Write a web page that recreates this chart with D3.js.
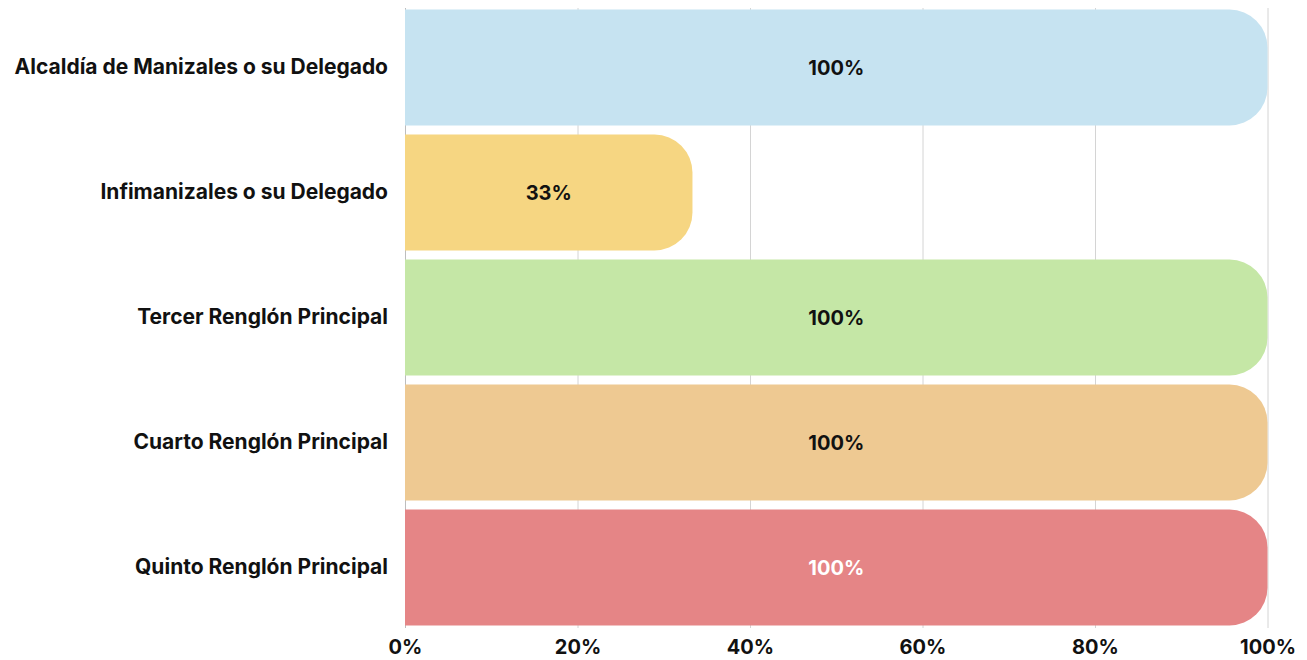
<!DOCTYPE html>
<html>
<head>
<meta charset="utf-8">
<script src="https://cdn.jsdelivr.net/npm/d3@7"></script>
<style>
  html, body { margin: 0; padding: 0; background: #fff; }
  svg { display: block; }
  text { font-family: "Inter", "Lato", sans-serif; font-weight: 700; }
</style>
</head>
<body>
<svg id="chart" width="1307" height="660"></svg>
<script>
const categories = [
  "Alcaldía de Manizales o su Delegado",
  "Infimanizales o su Delegado",
  "Tercer Renglón Principal",
  "Cuarto Renglón Principal",
  "Quinto Renglón Principal"
];
const values = [100, 33.33, 100, 100, 100];
const valueLabels = ["100%", "33%", "100%", "100%", "100%"];
const barColors = ["#c6e3f1", "#f6d682", "#c5e7a6", "#eec992", "#e58586"];
const labelColors = ["#111", "#111", "#111", "#111", "#fff"];
const tickValues = [0, 20, 40, 60, 80, 100];

const svg = d3.select("#chart");
const left = 405, right = 1267.5;
const FONT = '"Inter", "Lato", sans-serif';

const x = d3.scaleLinear().domain([0, 100]).range([left, right]);
const y = d3.scaleBand().domain(categories).range([5, 630])
  .paddingInner(0.072).paddingOuter(0.036);

// gridlines
svg.append("g").selectAll("line").data(tickValues).join("line")
  .attr("x1", d => x(d) + 0.5).attr("x2", d => x(d) + 0.5)
  .attr("y1", 8).attr("y2", 628)
  .attr("stroke", d => d === 0 ? "#bdbdbd" : "#d4d4d4")
  .attr("stroke-width", 1);

// bars with rounded right corners
const r = 38;
function barPath(x0, x1, y0, h) {
  const rr = Math.min(r, h / 2, x1 - x0);
  return `M${x0},${y0}H${x1 - rr}A${rr},${rr} 0 0 1 ${x1},${y0 + rr}V${y0 + h - rr}A${rr},${rr} 0 0 1 ${x1 - rr},${y0 + h}H${x0}Z`;
}
const data = categories.map((c, i) => ({c, v: values[i], lab: valueLabels[i], col: barColors[i], lc: labelColors[i]}));

svg.append("g").selectAll("path").data(data).join("path")
  .attr("d", d => barPath(x(0), x(d.v), y(d.c), y.bandwidth()))
  .attr("fill", d => d.col);

// value labels
svg.append("g").selectAll("text").data(data).join("text")
  .attr("x", d => (x(0) + x(d.v)) / 2)
  .attr("y", d => y(d.c) + y.bandwidth() / 2)
  .attr("dy", "0.35em")
  .attr("text-anchor", "middle")
  .attr("font-size", 20)
  .attr("fill", d => d.lc)
  .text(d => d.lab);

// category labels
const yAxis = d3.axisLeft(y).tickSize(0).tickPadding(17);
const gy = svg.append("g").attr("transform", `translate(${left},0)`).call(yAxis);
gy.select(".domain").remove();
gy.selectAll("text").attr("font-size", 21).attr("fill", "#111")
  .style("font-family", FONT).style("font-weight", 700);

// x axis
const xAxis = d3.axisBottom(x).tickValues(tickValues).tickSize(0).tickPadding(10)
  .tickFormat(d => d + "%");
const gx = svg.append("g").attr("transform", `translate(0,630)`).call(xAxis);
gx.select(".domain").remove();
gx.selectAll("text").attr("font-size", 20).attr("fill", "#111")
  .style("font-family", FONT).style("font-weight", 700);
</script>
</body>
</html>
